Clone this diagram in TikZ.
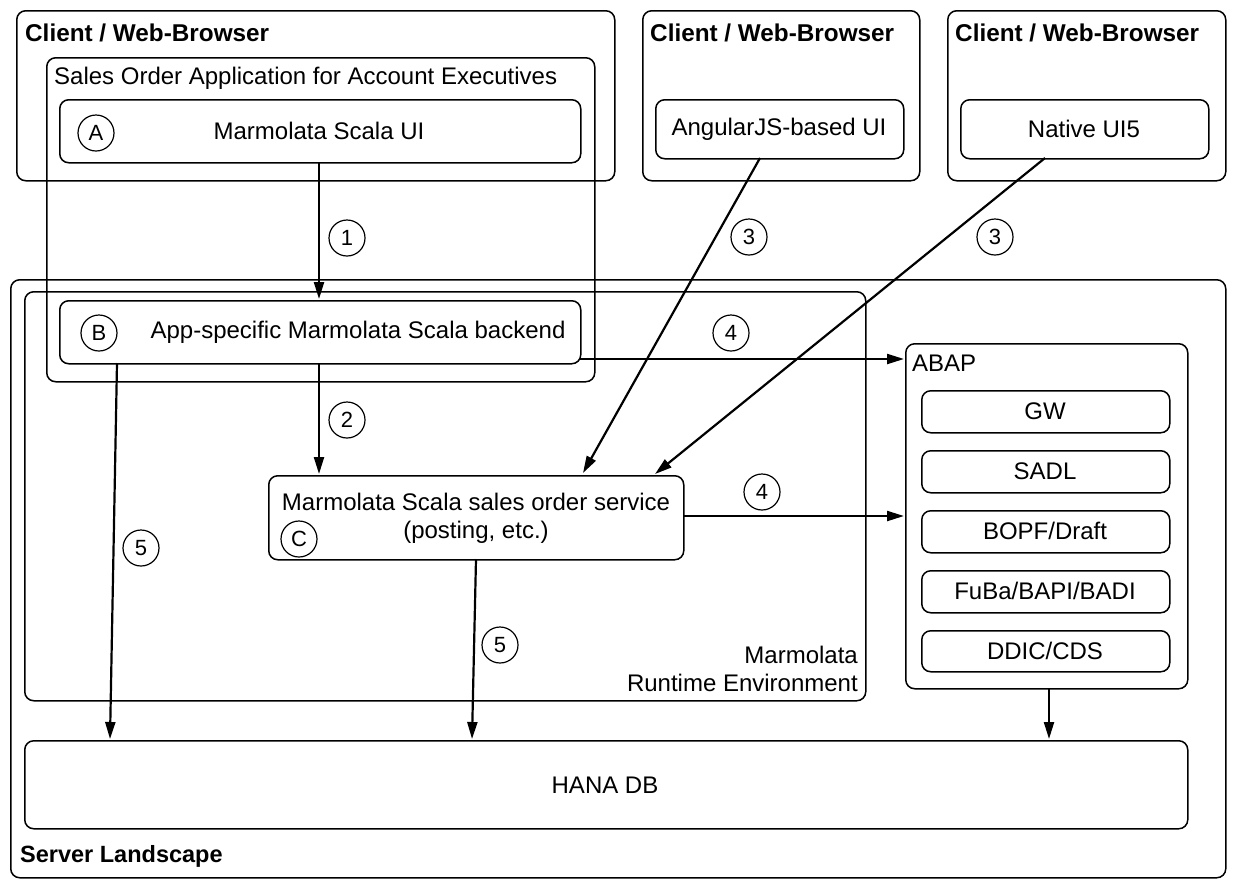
\documentclass[tikz,border=0pt]{standalone}
\usepackage{fontspec}
\setmainfont{Liberation Sans}
\usetikzlibrary{arrows.meta}
\begin{document}
\begin{tikzpicture}[x=1pt,y=-1pt,
  box/.style={draw,line width=1.5pt,rounded corners=9pt,inner sep=0pt,anchor=north west},
  txt/.style={font=\fontsize{24}{28}\selectfont,inner sep=0pt},
  ttl/.style={font=\fontsize{24.3}{29}\selectfont\bfseries,inner sep=0pt,anchor=west},
  num/.style={draw,circle,line width=1.2pt,minimum size=36pt,inner sep=0pt,font=\fontsize{22}{26}\selectfont},
  arr/.style={line width=2.2pt,-{Triangle[length=17pt,width=10pt]}}]
\useasboundingbox (0,0) rectangle (1233,895);
% client boxes
\node (cl1) [box,minimum width=598pt,minimum height=170pt] at (16,10) {};
\node (cl2) [box,minimum width=277pt,minimum height=170pt] at (642,10) {};
\node (cl3) [box,minimum width=278pt,minimum height=170pt] at (947,10) {};
\node (cl1t) [ttl] at (25,33) {Client / Web-Browser};
\node (cl2t) [ttl] at (650,33) {Client / Web-Browser};
\node (cl3t) [ttl] at (955,33) {Client / Web-Browser};
% server landscape
\node (srv) [box,minimum width=1215pt,minimum height=598pt] at (10,279) {};
\node (srvt) [ttl,font=\fontsize{23.5}{28}\selectfont\bfseries] at (20,856) {Server Landscape};
\node (rte) [box,minimum width=841pt,minimum height=409pt] at (24,291) {};
\node (rtet) [txt,anchor=south east,align=right] at (858,692) {Marmolata\\Runtime Environment};
% app box
\node (app) [box,minimum width=548pt,minimum height=324pt] at (46,57) {};
\node (appt) [txt,anchor=west] at (54,78) {Sales Order Application for Account Executives};
% A
\node (ui) [box,minimum width=521pt,minimum height=63pt] at (59,99) {};
\node (uit) [txt] at (319,131) {Marmolata Scala UI};
\node (ca) [num] at (96,133) {A};
% B
\node (be) [box,minimum width=521pt,minimum height=63pt] at (59,300) {};
\node (bet) [txt] at (358,332) {App-specific Marmolata Scala backend};
\node (cb) [num] at (99,333) {B};
% C
\node (svc) [box,minimum width=415pt,minimum height=84pt] at (268,475) {};
\node (svct) [txt,align=center] at (476,518) {Marmolata Scala sales order service\\(posting, etc.)};
\node (cc) [num] at (299,539) {C};
% other UIs
\node (ang) [box,minimum width=248pt,minimum height=59pt] at (655,99) {};
\node (angt) [txt] at (779,129) {AngularJS-based UI};
\node (nat) [box,minimum width=248pt,minimum height=59pt] at (960,99) {};
\node (natt) [txt] at (1084,129) {Native UI5};
% ABAP
\node (abap) [box,minimum width=282pt,minimum height=345pt] at (905,343) {};
\node (abapt) [txt,anchor=west] at (912,363) {ABAP};
\node (gw) [box,minimum width=248pt,minimum height=42pt] at (921,390) {};
\node (gwt) [txt] at (1045,411) {GW};
\node (sadl) [box,minimum width=248pt,minimum height=42pt] at (921,450) {};
\node (sadlt) [txt] at (1045,471) {SADL};
\node (bopf) [box,minimum width=248pt,minimum height=42pt] at (921,510) {};
\node (bopft) [txt] at (1045,531) {BOPF/Draft};
\node (fuba) [box,minimum width=248pt,minimum height=42pt] at (921,570) {};
\node (fubat) [txt] at (1045,591) {FuBa/BAPI/BADI};
\node (ddic) [box,minimum width=248pt,minimum height=41pt] at (921,630) {};
\node (ddict) [txt] at (1045,651) {DDIC/CDS};
% HANA
\node (hana) [box,minimum width=1163pt,minimum height=88pt] at (24,740) {};
\node (hanat) [txt] at (605,785) {HANA DB};
% coordinates
\coordinate (p1s) at (319,162);
\coordinate (p1e) at (319,299);
\coordinate (p2s) at (319,363);
\coordinate (p2e) at (319,474);
\coordinate (p3as) at (760,158);
\coordinate (p3ae) at (583,473);
\coordinate (p3bs) at (1045,158);
\coordinate (p3be) at (655,474);
\coordinate (p4as) at (580,359);
\coordinate (p4ae) at (904,359);
\coordinate (p4bs) at (683,516);
\coordinate (p4be) at (904,516);
\coordinate (p5as) at (117,363);
\coordinate (p5ae) at (110,739);
\coordinate (p5bs) at (476,559);
\coordinate (p5be) at (472,739);
\coordinate (p6s) at (1049,688);
\coordinate (p6e) at (1049,739);
% arrows
\draw[arr] (p1s) -- (p1e);
\draw[arr] (p2s) -- (p2e);
\draw[arr] (p3as) -- (p3ae);
\draw[arr] (p3bs) -- (p3be);
\draw[arr] (p4as) -- (p4ae);
\draw[arr] (p4bs) -- (p4be);
\draw[arr] (p5as) -- (p5ae);
\draw[arr] (p5bs) -- (p5be);
\draw[arr] (p6s) -- (p6e);
% step numbers
\node (n1) [num] at (347,238) {1};
\node (n2) [num] at (347,420) {2};
\node (n3a) [num] at (749,237) {3};
\node (n3b) [num] at (995,237) {3};
\node (n4a) [num] at (731,333) {4};
\node (n4b) [num] at (762,492) {4};
\node (n5a) [num] at (141,548) {5};
\node (n5b) [num] at (500,645) {5};
\end{tikzpicture}
\end{document}
